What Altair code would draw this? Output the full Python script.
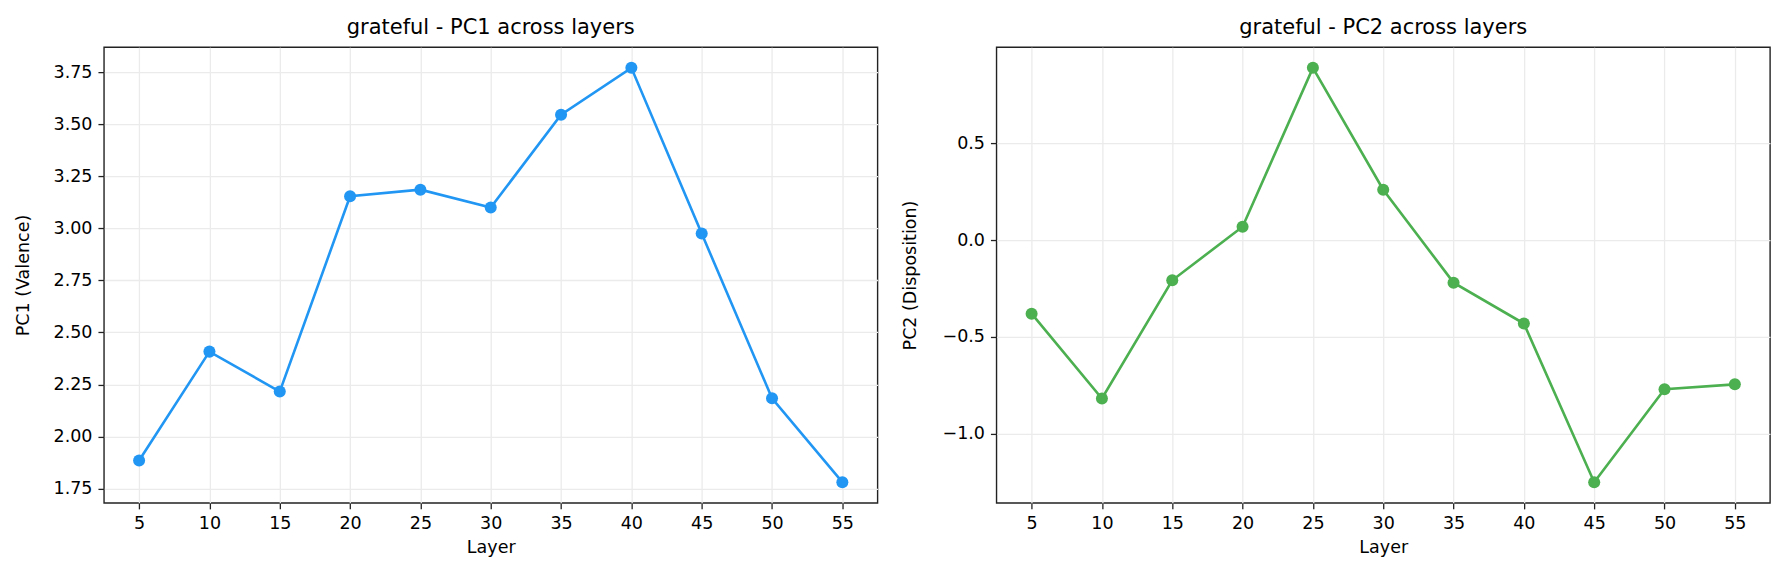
import altair as alt
import pandas as pd

# values
layers = [5, 10, 15, 20, 25, 30, 35, 40, 45, 50, 55]
pc1_valence = [1.885, 2.408, 2.216, 3.154, 3.186, 3.100, 3.546, 3.771, 2.975, 2.184, 1.781]
pc2_disposition = [-0.380, -0.818, -0.208, 0.069, 0.889, 0.260, -0.220, -0.431, -1.250, -0.770, -0.745]

pc1_ticks = [1.75, 2.00, 2.25, 2.50, 2.75, 3.00, 3.25, 3.50, 3.75]
pc2_ticks = [-1.0, -0.5, 0.0, 0.5]

FONT = "DejaVu Sans"
W, H = 774, 456


def padded(vals, frac=0.05):
    lo, hi = min(vals), max(vals)
    m = (hi - lo) * frac
    return [lo - m, hi + m]


def panel(values, field, title, ytitle, color, ticks, fmt, title_x):
    df = pd.DataFrame({"Layer": layers, field: values})
    x = alt.X("Layer:Q",
              scale=alt.Scale(domain=[2.5, 57.5], nice=False, zero=False),
              axis=alt.Axis(values=layers, title="Layer", format="d"))
    y = alt.Y(f"{field}:Q",
              scale=alt.Scale(domain=padded(values), nice=False, zero=False),
              axis=alt.Axis(values=ticks, title=ytitle,
                            labelExpr=f"replace(format(datum.value, '{fmt}'), '-', '\u2212')",
                            titleX=title_x, titleY=H / 2, titleBaseline="middle",
                            titleAngle=270))
    base = alt.Chart(df).encode(x=x, y=y)
    line = base.mark_line(color=color, strokeWidth=2.6)
    pts = base.mark_circle(color=color, size=145, opacity=1)
    return alt.layer(line, pts).properties(
        width=W, height=H,
        title=alt.TitleParams(title, fontSize=21, font=FONT, fontWeight="normal",
                              color="black", offset=9),
    )


left = panel(pc1_valence, "PC1 (Valence)", "grateful - PC1 across layers",
             "PC1 (Valence)", "#2196F3", pc1_ticks, ".2f", -80.5)
right = panel(pc2_disposition, "PC2 (Disposition)", "grateful - PC2 across layers",
              "PC2 (Disposition)", "#4CAF50", pc2_ticks, ".1f", -86)

chart = alt.hconcat(left, right, spacing=22).properties(
    padding={"left": 5, "top": 8, "right": 5, "bottom": 5}
).configure_view(
    stroke="#222222", strokeWidth=1.4
).configure_axis(
    domain=False,
    grid=True, gridColor="#ebebeb", gridWidth=1.3,
    ticks=True, tickColor="#222222", tickWidth=1.3, tickSize=6,
    labelFont=FONT, labelFontSize=17.5, labelColor="black", labelPadding=6,
    titleFont=FONT, titleFontSize=17.5, titleFontWeight="normal", titleColor="black",
    titlePadding=6, labelAngle=0,
)

chart.save("out.html", embed_options={"renderer": "svg", "actions": False})
